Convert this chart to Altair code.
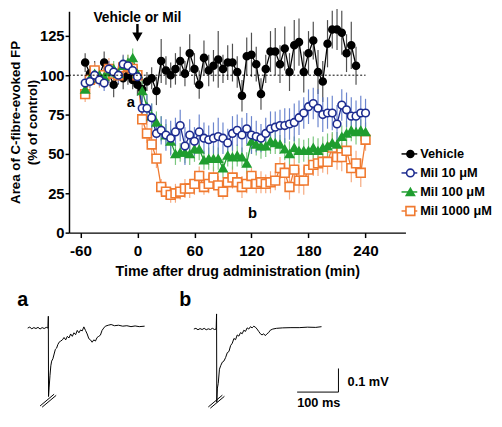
import altair as alt
import pandas as pd

# ---------------- data ----------------
series = ["Vehicle", "Mil 10 μM", "Mil 100 μM", "Mil 1000 μM"]
line_colors = ["#000000", "#1c2b8f", "#1f9d2f", "#f07a30"]
fill_colors = ["#000000", "#ffffff", "#1f9d2f", "#ffffff"]
err_colors = ["#3c3c3c", "#5b78c9", "#6cc070", "#f5a070"]
shapes = ["circle", "circle", "triangle-up", "square"]
marker_sizes = [50, 80, 45, 55]

veh_time = list(range(-55, 235, 5))
mil_time = list(range(-55, 245, 5))

veh_mean = [108, 101, 103, 100, 108, 101, 94, 100, 98, 100, 97, 94,
            91, 96, 98, 90, 109, 103, 100, 104, 109, 101,
            114, 104, 94, 111, 103, 106, 110, 104, 108, 108,
            102, 87, 112, 113, 107, 88, 104, 115, 115, 107,
            117, 102, 119, 121, 102, 114, 122, 102, 96, 120,
            129, 129, 127, 114, 119, 106]
veh_sem = [6, 5, 6, 5, 7, 6, 8, 6, 7, 6, 6, 7,
           8, 6, 7, 9, 14, 9, 8, 10, 9, 8,
           12, 10, 9, 11, 10, 10, 18, 9, 11, 12,
           10, 10, 12, 14, 11, 10, 9, 13, 15, 12,
           14, 12, 16, 15, 13, 14, 12, 14, 13, 15,
           12, 13, 14, 12, 15, 12]

m10_mean = [95, 96, 100, 97, 95, 104, 102, 100, 107, 106, 103, 99,
            79, 79, 73, 63, 65, 62, 60, 64, 68, 55,
            62, 58, 64, 60, 59, 60, 61, 60, 57, 63,
            65, 62, 66, 62, 61, 60, 63, 66, 67, 68,
            68, 69, 70, 73, 76, 80, 82, 79, 75, 76,
            76, 69, 81, 78, 74, 74, 76, 76]
m10_sem = [5, 4, 5, 4, 5, 5, 4, 5, 6, 5, 5, 5,
           8, 9, 9, 10, 9, 10, 11, 9, 10, 12,
           10, 9, 11, 10, 9, 10, 12, 10, 9, 11,
           10, 11, 10, 12, 10, 9, 10, 11, 10, 10,
           11, 10, 12, 11, 10, 11, 10, 12, 11, 10,
           11, 12, 10, 11, 12, 10, 11, 9]

m100_mean = [91, 98, 101, 100, 99, 102, 104, 101, 106, 108, 111, 101,
             90, 80, 74, 70, 66, 62, 58, 50, 51, 51,
             50, 53, 53, 46, 47, 47, 47, 41, 49, 48,
             49, 48, 44, 58, 56, 55, 55, 58, 57, 56,
             53, 50, 54, 52, 52, 52, 54, 52, 54, 55,
             57, 56, 61, 63, 65, 64, 65, 64]
m100_sem = [4, 5, 4, 5, 4, 5, 5, 4, 6, 5, 6, 5,
            7, 7, 8, 7, 8, 7, 8, 7, 6, 7,
            7, 8, 7, 6, 7, 8, 7, 6, 7, 8,
            7, 6, 7, 8, 7, 8, 7, 8, 7, 6,
            7, 8, 7, 8, 7, 8, 7, 8, 7, 8,
            7, 8, 7, 8, 7, 8, 7, 6]

m1000_mean = [88, 97, 103, 98, 100, 104, 101, 100, 105, 106, 104, 100,
              72, 63, 56, 47, 29, 26, 24, 25, 26, 28,
              28, 31, 36, 29, 31, 35, 30, 26, 32, 35,
              32, 29, 31, 36, 31, 32, 31, 32, 33, 41,
              38, 29, 40, 33, 33, 40, 43, 44, 45, 45,
              54, 48, 48, 52, 41, 44, 38, 59]
m1000_sem = [5, 6, 5, 6, 5, 7, 6, 5, 8, 7, 9, 6,
             6, 6, 7, 6, 5, 5, 5, 6, 5, 6,
             6, 7, 6, 5, 6, 7, 6, 5, 6, 7,
             6, 7, 6, 5, 6, 7, 6, 7, 6, 7,
             7, 8, 7, 8, 9, 8, 7, 8, 7, 8,
             9, 8, 9, 8, 9, 8, 9, 7]

x_ticks = [-60, 0, 60, 120, 180, 240]
y_ticks = [0, 25, 50, 75, 100, 125]
x_domain = [-72, 282]
y_domain = [0, 140.6]
baseline_span = [-72, 240]
baseline_level = 100

annot_text = ["Vehicle or Mil", "a", "b"]
annot_time = [0, -7, 121]
annot_value = [136, 83, 12.5]
arrow_time = 0
arrow_top = 132.5
arrow_bottom = 126
arrow_head = 124.3

# electrophysiology traces (ms, mV)
trace_a_ms = [-50, -45, -40, -35, -30, -25, -20, -15, -10, -5, -1,
              0, 0.5, 2, 4, 6, 8, 11, 14, 17, 20, 23, 26, 30, 34, 38, 42, 46, 50,
              54, 58, 62, 66, 70, 74, 78, 82, 86, 90, 94, 98, 102, 106, 110, 114,
              118, 122, 126, 130, 134, 138, 145, 152, 160, 170, 180, 190, 200,
              210, 220, 233]
trace_a_mv = [0.0, 0.004, -0.003, 0.002, -0.002, 0.003, -0.004, 0.002, -0.002, 0.003, 0.0,
              0.05, -0.29, -0.25, -0.2, -0.16, -0.14, -0.13, -0.11, -0.09, -0.085, -0.07,
              -0.06, -0.055, -0.05, -0.04, -0.05, -0.035, -0.042, -0.025, -0.035, -0.02,
              -0.028, -0.01, -0.02, -0.008, -0.012, 0.005, -0.01, -0.025, -0.045, -0.05,
              -0.06, -0.05, -0.055, -0.04, -0.035, -0.03, -0.01, 0.0, 0.008, 0.012, 0.015,
              0.01, 0.012, 0.008, 0.01, 0.006, 0.009, 0.006, 0.008]
trace_b_ms = [-55, -50, -45, -40, -35, -30, -25, -20, -15, -10, -5, -1,
              0, 0.5, 2, 4, 7, 10, 14, 18, 22, 26, 30, 34, 38, 42, 46, 50, 54, 58,
              62, 66, 70, 74, 78, 82, 86, 90, 94, 98, 102, 106, 110, 114, 118, 122,
              126, 130, 136, 145, 160, 180, 200, 220, 240, 254]
trace_b_mv = [0.0, 0.003, -0.003, 0.002, -0.002, 0.003, -0.003, 0.001, -0.002, 0.003, -0.002, 0.0,
              0.064, -0.31, -0.25, -0.23, -0.17, -0.155, -0.14, -0.135, -0.12, -0.1,
              -0.095, -0.07, -0.06, -0.04, -0.045, -0.025, -0.03, -0.015, -0.02, -0.005,
              -0.01, 0.005, 0.0, 0.01, 0.005, 0.012, 0.008, 0.0, -0.01, -0.02, -0.025,
              -0.02, -0.028, -0.02, -0.015, -0.005, 0.0, 0.003, 0.005, 0.006, 0.006,
              0.008, 0.007, 0.01]
slash_x = [-20, -15]
slash_x2 = [14, 19]
slash_y = [-0.33, -0.335]
slash_y2 = [-0.28, -0.285]
scalebar_ms = [195, 295]
scalebar_mv = [-0.267, -0.167]

FONT = "Arial"

# ---------------- tables ----------------
rows = []
for name, times, means, sems in [
    ("Vehicle", veh_time, veh_mean, veh_sem),
    ("Mil 1000 μM", mil_time, m1000_mean, m1000_sem),
    ("Mil 100 μM", mil_time, m100_mean, m100_sem),
    ("Mil 10 μM", mil_time, m10_mean, m10_sem),
]:
    for t, m, s in zip(times, means, sems):
        rows.append({"series": name, "time": t, "mean": m, "lo": m - s, "hi": m + s})
df = pd.DataFrame(rows)

x_scale = alt.Scale(domain=x_domain, nice=False, zero=False)
y_scale = alt.Scale(domain=y_domain, nice=False, zero=False)
x_axis = alt.Axis(values=x_ticks, labelExpr="'' + datum.value", grid=False,
                  labelFont=FONT, labelFontSize=15.5, labelFontWeight="bold", labelColor="black",
                  labelPadding=6, tickSize=5, tickWidth=1.5, tickColor="black",
                  domainColor="black", domainWidth=1.5,
                  titleFont=FONT, titleFontSize=14.5, titleFontWeight="bold", titleColor="black",
                  titlePadding=6)
y_axis = alt.Axis(values=y_ticks, grid=False,
                  labelFont=FONT, labelFontSize=15, labelFontWeight="bold", labelColor="black",
                  labelPadding=1, tickSize=4, tickWidth=1.5, tickColor="black",
                  domainColor="black", domainWidth=1.5,
                  titleFont=FONT, titleFontSize=13.5, titleFontWeight="bold", titleColor="black",
                  titleLineHeight=17, titlePadding=0)
X_TITLE = "Time after drug administration (min)"
Y_TITLE = ["Area of C-fibre-evoked FP", "(% of control)"]


def X(field):
    return alt.X(f"{field}:Q", scale=x_scale, axis=x_axis, title=X_TITLE)


def Y(field):
    return alt.Y(f"{field}:Q", scale=y_scale, axis=y_axis, title=Y_TITLE)


color_enc = alt.Color("series:N", scale=alt.Scale(domain=series, range=line_colors), legend=None)
fill_enc = alt.Fill("series:N", scale=alt.Scale(domain=series, range=fill_colors), legend=None)
shape_enc = alt.Shape("series:N", scale=alt.Scale(domain=series, range=shapes), legend=None)
size_enc = alt.Size("series:N", scale=alt.Scale(domain=series, range=marker_sizes), legend=None)

base = alt.Chart(df)
err = base.mark_rule(strokeWidth=1.2, opacity=0.9).encode(
    x=X("time"), y=Y("lo"), y2="hi",
    stroke=alt.Stroke("series:N", scale=alt.Scale(domain=series, range=err_colors), legend=None))
lines = base.mark_line(strokeWidth=1.3).encode(
    x=X("time"), y=Y("mean"), color=color_enc, detail="series:N", order="time:Q")
points = base.mark_point(filled=False, opacity=1, strokeWidth=1.6).encode(
    x=X("time"), y=Y("mean"), color=color_enc, fill=fill_enc, shape=shape_enc, size=size_enc)

bl_df = pd.DataFrame({"t0": [baseline_span[0]], "t1": [baseline_span[1]], "lvl": [baseline_level]})
baseline = alt.Chart(bl_df).mark_rule(color="black", strokeWidth=1, strokeDash=[2, 2]).encode(
    x=X("t0"), x2="t1", y=Y("lvl"))

ann_df = pd.DataFrame({"text": annot_text, "time": annot_time, "value": annot_value})
ann_top = alt.Chart(ann_df.iloc[:1]).mark_text(font=FONT, fontSize=14, fontWeight="bold",
                                               color="black", baseline="middle").encode(
    x=X("time"), y=Y("value"), text="text:N")
ann_ab = alt.Chart(ann_df.iloc[1:]).mark_text(font=FONT, fontSize=15, fontWeight="bold",
                                              color="black", baseline="middle").encode(
    x=X("time"), y=Y("value"), text="text:N")

arr_df = pd.DataFrame({"t": [arrow_time], "top": [arrow_top], "bot": [arrow_bottom], "head": [arrow_head]})
arrow_shaft = alt.Chart(arr_df).mark_rule(color="black", strokeWidth=2.5).encode(
    x=X("t"), y=Y("top"), y2="bot")
arrow_tip = alt.Chart(arr_df).mark_point(shape="triangle-down", filled=True, color="black",
                                         opacity=1, size=110).encode(x=X("t"), y=Y("head"))

main = alt.layer(err, lines, points, baseline, ann_top, ann_ab, arrow_shaft, arrow_tip)

# ---------------- legend ----------------
leg_df = pd.DataFrame({"series": series, "row": [0, 1, 2, 3]})
leg_y = alt.Y("row:Q", scale=alt.Scale(domain=[0, 3], range=[145, 203], nice=False, zero=False), axis=None)
leg_rule = alt.Chart(leg_df).mark_rule(strokeWidth=1.5).encode(
    x=alt.value(338), x2=alt.value(354), y=leg_y, color=color_enc)
leg_pt = alt.Chart(leg_df).mark_point(filled=False, opacity=1, strokeWidth=1.6).encode(
    x=alt.value(347), y=leg_y, color=color_enc, fill=fill_enc, shape=shape_enc, size=size_enc)
leg_txt = alt.Chart(leg_df).mark_text(align="left", baseline="middle", font=FONT, fontSize=13,
                                      fontWeight="bold", color="black").encode(
    x=alt.value(357), y=leg_y, text="series:N")
legend = alt.layer(leg_rule, leg_pt, leg_txt)

# ---------------- traces ----------------
PX_PER_MS = 0.42
PX_PER_MV = 240.0


def trace_panel(ms, mv, x0, y0, label, label_ms, label_mv, extra=None):
    d = pd.DataFrame({"ms": ms, "mv": mv, "i": list(range(len(ms)))})
    dom_x = [-80, 340]
    dom_y = [-0.4, 0.15]
    xs = alt.Scale(domain=dom_x, range=[x0 + PX_PER_MS * dom_x[0], x0 + PX_PER_MS * dom_x[1]],
                   nice=False, zero=False)
    ys = alt.Scale(domain=dom_y, range=[y0 - PX_PER_MV * dom_y[0], y0 - PX_PER_MV * dom_y[1]],
                   nice=False, zero=False)

    def TX(f):
        return alt.X(f"{f}:Q", scale=xs, axis=None)

    def TY(f):
        return alt.Y(f"{f}:Q", scale=ys, axis=None)

    line = alt.Chart(d).mark_line(color="black", strokeWidth=1).encode(
        x=TX("ms"), y=TY("mv"), order="i:Q")
    sl = pd.DataFrame({"x": slash_x, "x2": slash_x2, "y": slash_y, "y2": slash_y2})
    slashes = alt.Chart(sl).mark_rule(color="black", strokeWidth=1).encode(
        x=TX("x"), x2="x2", y=TY("y"), y2="y2")
    lab = alt.Chart(pd.DataFrame({"t": [label], "x": [label_ms], "y": [label_mv]})).mark_text(
        font=FONT, fontSize=20, fontWeight="bold", color="black", baseline="middle").encode(
        x=TX("x"), y=TY("y"), text="t:N")
    layers = [line, slashes, lab]
    if extra:
        sb_h = pd.DataFrame({"x": [scalebar_ms[0]], "x2": [scalebar_ms[1]], "y": [scalebar_mv[0]]})
        sb_v = pd.DataFrame({"x": [scalebar_ms[1]], "y": [scalebar_mv[0]], "y2": [scalebar_mv[1]]})
        layers.append(alt.Chart(sb_h).mark_rule(color="black", strokeWidth=1).encode(
            x=TX("x"), x2="x2", y=TY("y")))
        layers.append(alt.Chart(sb_v).mark_rule(color="black", strokeWidth=1).encode(
            x=TX("x"), y=TY("y"), y2="y2"))
        sb_t = pd.DataFrame({"t": ["0.1 mV", "100 ms"], "x": [317, 195], "y": [-0.225, -0.312]})
        layers.append(alt.Chart(sb_t).mark_text(font=FONT, fontSize=13, fontWeight="bold",
                                                color="black", align="left", baseline="middle").encode(
            x=TX("x"), y=TY("y"), text="t:N"))
    return alt.layer(*layers)


trace_a = trace_panel(trace_a_ms, trace_a_mv, -21, 322, "a", -62, 0.117)
trace_b = trace_panel(trace_b_ms, trace_b_mv, 150, 323, "b", -76, 0.121, extra=True)

chart = alt.layer(main, legend, trace_a, trace_b).resolve_scale(
    x="independent", y="independent"
).properties(
    width=342, height=225,
    padding={"left": 62, "top": 0, "right": 90, "bottom": 180},
    autosize=alt.AutoSizeParams(type="none"),
).configure_view(stroke=None)

chart.save("out.html", embed_options={"renderer": "svg", "actions": False})
